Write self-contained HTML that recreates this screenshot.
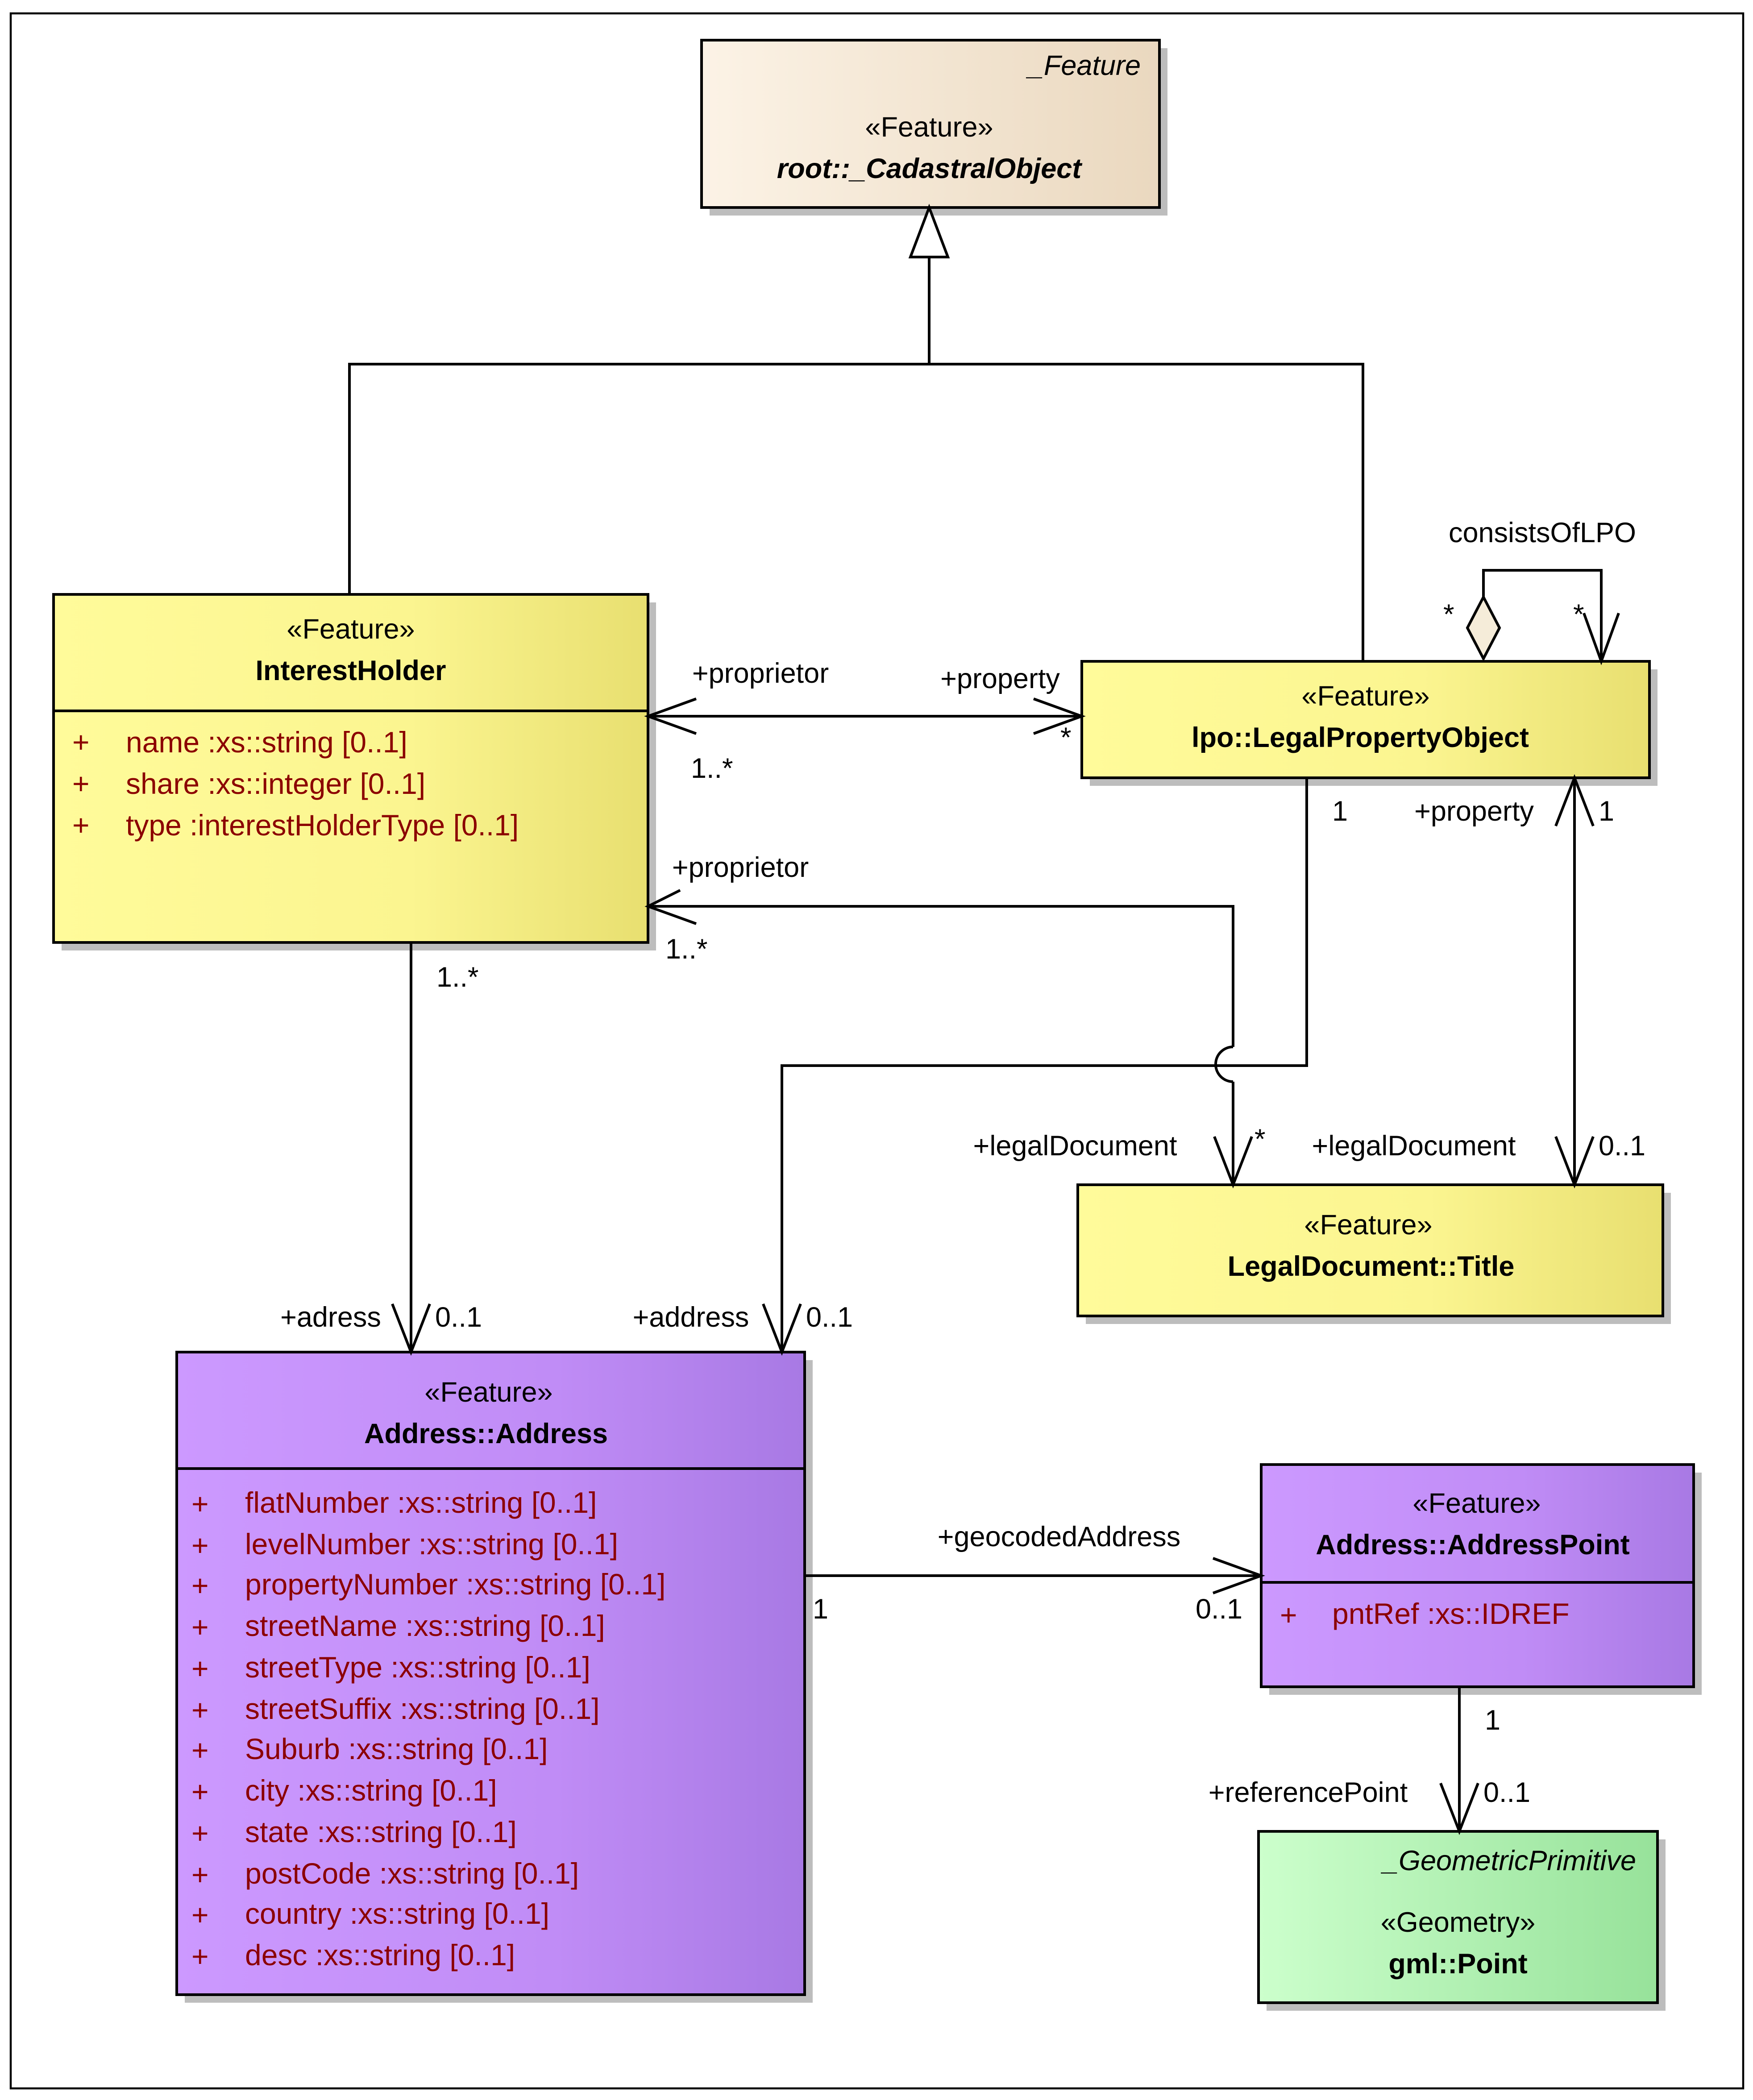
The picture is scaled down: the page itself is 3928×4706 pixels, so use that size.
<!DOCTYPE html>
<html><head><meta charset="utf-8"><style>html,body{margin:0;padding:0;background:#fff}svg{display:block}</style></head>
<body>
<svg xmlns="http://www.w3.org/2000/svg" width="3928" height="4706" viewBox="0 0 1309.33 1568.67" font-family="Liberation Sans, sans-serif">
<defs>
<linearGradient id="gb" x1="0" x2="1" y1="0" y2="0"><stop offset="0" stop-color="#fcf3e6"/><stop offset="1" stop-color="#ead8bf"/></linearGradient>
<linearGradient id="gy" x1="0" x2="1" y1="0" y2="0"><stop offset="0" stop-color="#fffb9a"/><stop offset="0.6" stop-color="#fbf590"/><stop offset="1" stop-color="#e8df70"/></linearGradient>
<linearGradient id="gp" x1="0" x2="1" y1="0" y2="0"><stop offset="0" stop-color="#cc99ff"/><stop offset="0.6" stop-color="#c08cf6"/><stop offset="1" stop-color="#a879e4"/></linearGradient>
<linearGradient id="gg" x1="0" x2="1" y1="0" y2="0"><stop offset="0" stop-color="#ccffcc"/><stop offset="1" stop-color="#97e29a"/></linearGradient>
</defs>
<rect x="8" y="10" width="1294" height="1550" fill="#fff" stroke="#000" stroke-width="1.5"/>

<g fill="#bdbdbd">
<rect x="530" y="36" width="342" height="125"/>
<rect x="46" y="450" width="444" height="260"/>
<rect x="814" y="500" width="424" height="87"/>
<rect x="811" y="891" width="437" height="98"/>
<rect x="138" y="1016" width="469" height="480"/>
<rect x="948" y="1100" width="323" height="166"/>
<rect x="946" y="1374" width="298" height="128"/>
</g>

<g stroke="#000" stroke-width="2">
<rect x="524" y="30" width="342" height="125" fill="url(#gb)"/>
<rect x="40" y="444" width="444" height="260" fill="url(#gy)"/>
<line x1="40" y1="531" x2="484" y2="531"/>
<rect x="808" y="494" width="424" height="87" fill="url(#gy)"/>
<rect x="805" y="885" width="437" height="98" fill="url(#gy)"/>
<rect x="132" y="1010" width="469" height="480" fill="url(#gp)"/>
<line x1="132" y1="1097" x2="601" y2="1097"/>
<rect x="942" y="1094" width="323" height="166" fill="url(#gp)"/>
<line x1="942" y1="1182" x2="1265" y2="1182"/>
<rect x="940" y="1368" width="298" height="128" fill="url(#gg)"/>
</g>

<g stroke="#000" stroke-width="2" fill="none">
<polygon points="694,155 680,192 708,192" fill="#fff"/>
<polyline points="694,192 694,272"/>
<polyline points="261,444 261,272 1018,272 1018,494"/>
<polyline points="1108,446 1108,426 1196,426 1196,494"/>
<polygon points="1108,446 1096,469 1108,492 1120,469" fill="#f5ecd9"/>
<polyline points="1183,458 1196,494 1209,458"/>
<line x1="484" y1="535" x2="808" y2="535"/>
<polyline points="520,522 484,535 520,548"/>
<polyline points="772,522 808,535 772,548"/>
<polyline points="484,677 921,677 921,782"/>
<path d="M921,782 A13,13 0 0 0 921,808"/>
<polyline points="921,808 921,885"/>
<polyline points="508,665 484,677 520,690"/>
<polyline points="907,849 921,885 935,849"/>
<polyline points="976,581 976,796 584,796 584,1010"/>
<polyline points="570,974 584,1010 598,974"/>
<line x1="1176" y1="581" x2="1176" y2="885"/>
<polyline points="1162,617 1176,581 1190,617"/>
<polyline points="1162,849 1176,885 1190,849"/>
<line x1="307" y1="704" x2="307" y2="1010"/>
<polyline points="293,974 307,1010 321,974"/>
<line x1="601" y1="1177" x2="942" y2="1177"/>
<polyline points="906,1164 942,1177 906,1190"/>
<line x1="1090" y1="1260" x2="1090" y2="1368"/>
<polyline points="1076,1332 1090,1368 1104,1332"/>
</g>

<g font-size="21" fill="#000">
<text x="852" y="56" text-anchor="end" font-style="italic">_Feature</text>
<text x="694" y="102" text-anchor="middle">«Feature»</text>
<text x="694" y="133" text-anchor="middle" font-weight="bold" font-style="italic">root::_CadastralObject</text>

<text x="262" y="477" text-anchor="middle">«Feature»</text>
<text x="262" y="508" text-anchor="middle" font-weight="bold">InterestHolder</text>

<text x="1020" y="527" text-anchor="middle">«Feature»</text>
<text x="1016" y="558" text-anchor="middle" font-weight="bold">lpo::LegalPropertyObject</text>

<text x="1022" y="922" text-anchor="middle">«Feature»</text>
<text x="1024" y="953" text-anchor="middle" font-weight="bold">LegalDocument::Title</text>

<text x="365" y="1047" text-anchor="middle">«Feature»</text>
<text x="363" y="1078" text-anchor="middle" font-weight="bold">Address::Address</text>

<text x="1103" y="1130" text-anchor="middle">«Feature»</text>
<text x="1100" y="1161" text-anchor="middle" font-weight="bold">Address::AddressPoint</text>

<text x="1222" y="1397" text-anchor="end" font-style="italic">_GeometricPrimitive</text>
<text x="1089" y="1443" text-anchor="middle">«Geometry»</text>
<text x="1089" y="1474" text-anchor="middle" font-weight="bold">gml::Point</text>

<text x="1152" y="405" text-anchor="middle">consistsOfLPO</text>
<text x="1078" y="466">*</text><text x="1175" y="466">*</text>
<text x="568" y="510" text-anchor="middle">+proprietor</text>
<text x="516" y="581">1..*</text>
<text x="747" y="514" text-anchor="middle">+property</text>
<text x="792" y="558">*</text>
<text x="553" y="655" text-anchor="middle">+proprietor</text>
<text x="497" y="716">1..*</text>
<text x="995" y="613">1</text>
<text x="1101" y="613" text-anchor="middle">+property</text>
<text x="1194" y="613">1</text>
<text x="803" y="863" text-anchor="middle">+legalDocument</text>
<text x="937" y="858">*</text>
<text x="1056" y="863" text-anchor="middle">+legalDocument</text>
<text x="1194" y="863">0..1</text>
<text x="326" y="737">1..*</text>
<text x="247" y="991" text-anchor="middle">+adress</text>
<text x="325" y="991">0..1</text>
<text x="516" y="991" text-anchor="middle">+address</text>
<text x="602" y="991">0..1</text>
<text x="791" y="1155" text-anchor="middle">+geocodedAddress</text>
<text x="607" y="1209">1</text>
<text x="893" y="1209">0..1</text>
<text x="1109" y="1292">1</text>
<text x="977" y="1346" text-anchor="middle">+referencePoint</text>
<text x="1108" y="1346">0..1</text>
</g>

<g font-size="22" fill="#8b0000" xml:space="preserve">
<text x="54" y="562">+</text><text x="94" y="562">name  :xs::string [0..1]</text>
<text x="54" y="593">+</text><text x="94" y="593">share  :xs::integer [0..1]</text>
<text x="54" y="624">+</text><text x="94" y="624">type  :interestHolderType [0..1]</text>
<text x="956" y="1214">+</text><text x="995" y="1213">pntRef  :xs::IDREF</text>
<text x="143" y="1131">+</text><text x="183" y="1130">flatNumber  :xs::string [0..1]</text>
<text x="143" y="1162">+</text><text x="183" y="1161">levelNumber  :xs::string [0..1]</text>
<text x="143" y="1192">+</text><text x="183" y="1191">propertyNumber  :xs::string [0..1]</text>
<text x="143" y="1223">+</text><text x="183" y="1222">streetName  :xs::string [0..1]</text>
<text x="143" y="1254">+</text><text x="183" y="1253">streetType  :xs::string [0..1]</text>
<text x="143" y="1285">+</text><text x="183" y="1284">streetSuffix  :xs::string [0..1]</text>
<text x="143" y="1315">+</text><text x="183" y="1314">Suburb  :xs::string [0..1]</text>
<text x="143" y="1346">+</text><text x="183" y="1345">city  :xs::string [0..1]</text>
<text x="143" y="1377">+</text><text x="183" y="1376">state  :xs::string [0..1]</text>
<text x="143" y="1408">+</text><text x="183" y="1407">postCode  :xs::string [0..1]</text>
<text x="143" y="1438">+</text><text x="183" y="1437">country  :xs::string [0..1]</text>
<text x="143" y="1469">+</text><text x="183" y="1468">desc  :xs::string [0..1]</text>
</g>
</svg>
</body></html>
